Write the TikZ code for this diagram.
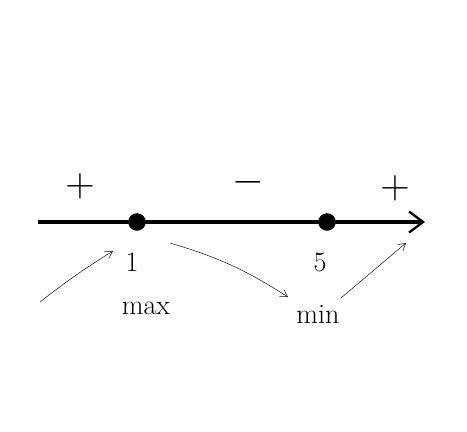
\documentclass[tikz,border=0pt]{standalone}
\usetikzlibrary{arrows.meta}

\tikzset{
	sign/.style = {font=\fontsize{24}{28}\selectfont, scale=1.4},
	lab/.style = {font=\fontsize{24}{28}\selectfont},
	pt/.style = {circle, fill, inner sep=0pt, minimum size=15pt},
	hint/.style = {thin, -{Straight Barb[length=6pt,width=7pt]}}
}

\begin{document}
\begin{tikzpicture}[x=0.03cm, y=-0.03cm]
	\useasboundingbox (0,0) rectangle (467,432);
	% number line
	\coordinate (start) at (38,222);
	\coordinate (end) at (425,222);
	\draw[line width=4pt, -{Straight Barb[length=12pt,width=18pt,line width=2pt]}] (start) -- (end);
	\node[pt] (p1) at (137,222) {};
	\node[pt] (p5) at (327,222) {};
	% signs
	\node[sign] (plusa) at (80,186) {$+$};
	\node[sign] (minus) at (248,182) {$-$};
	\node[sign] (plusb) at (395,188) {$+$};
	% points
	\node[lab] (one) at (132,262) {1};
	\node[lab] (five) at (320,262) {5};
	\node[lab] (max) at (146,308) {max};
	\node[lab] (min) at (318,314) {min};
	% monotonicity
	\coordinate (a) at (40,302);
	\coordinate (a1) at (113,251);
	\coordinate (b) at (170,243);
	\coordinate (b1) at (288,297);
	\coordinate (c) at (341,298);
	\coordinate (c1) at (406,243);
	\draw[hint] (a) to[bend left=3] (a1);
	\draw[hint] (b) to[bend left=8] (b1);
	\draw[hint] (c) -- (c1);
\end{tikzpicture}
\end{document}
